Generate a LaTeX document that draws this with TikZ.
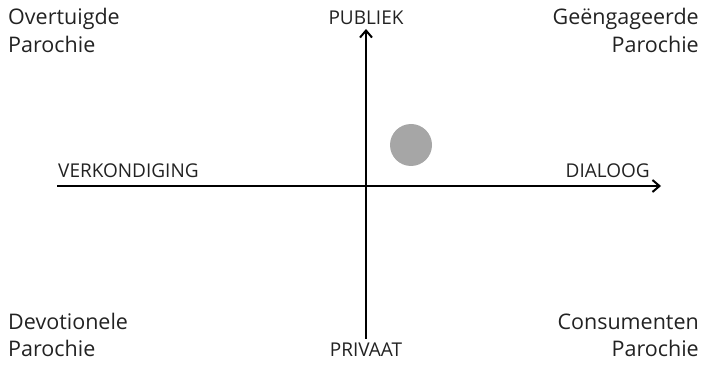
\documentclass[tikz,border=0pt]{standalone}
\usepackage{fontspec}
\setmainfont{Open Sans}
\usetikzlibrary{arrows.meta}
\definecolor{txt}{HTML}{222222}
\definecolor{dot}{HTML}{A6A6A6}
\begin{document}
\begin{tikzpicture}[x=1pt,y=-1pt,
  axis/.style={line width=2.6pt,black,-{Straight Barb[length=7pt,width=12pt,line width=2pt]}},
  corner/.style={inner sep=0pt,text=txt,font=\fontsize{21.5}{28}\selectfont,align=#1},
  axlabel/.style={inner sep=0pt,text=txt,font=\fontsize{19}{20}\selectfont}]
\useasboundingbox (0,0) rectangle (705,366);
\coordinate (L) at (57,186);
\coordinate (R) at (661,186);
\coordinate (B) at (366,339);
\coordinate (T) at (366,29);
\draw[axis] (L) -- (R);
\draw[axis] (B) -- (T);
\node[circle,fill=dot,minimum size=42pt,inner sep=0pt] (dotc) at (411,145) {};
\node[axlabel,anchor=base] (pub) at (366,25) {PUBLIEK};
\node[axlabel,anchor=base] (priv) at (366,357) {PRIVAAT};
\node[axlabel,anchor=base west] (verk) at (58,178) {VERKONDIGING};
\node[axlabel,anchor=base east] (dial) at (650,178) {DIALOOG};
\node[corner=left,anchor=base west] (ov) at (8,53) {Overtuigde\\Parochie};
\node[corner=right,anchor=base east] (ge) at (699,53) {Geëngageerde\\Parochie};
\node[corner=left,anchor=base west] (de) at (8,357) {Devotionele\\Parochie};
\node[corner=right,anchor=base east] (co) at (699,357) {Consumenten\\Parochie};
\end{tikzpicture}
\end{document}
